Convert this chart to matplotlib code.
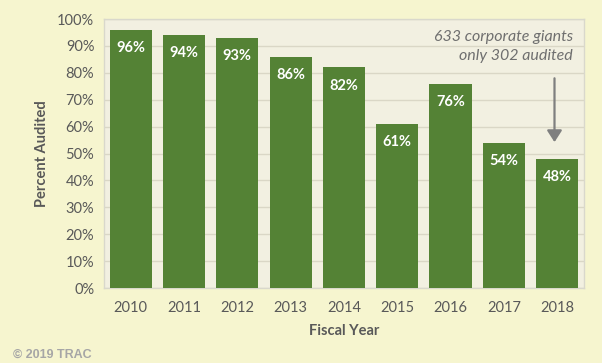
import matplotlib
matplotlib.use("Agg")
import matplotlib.pyplot as plt
from matplotlib.ticker import PercentFormatter

years = ["2010", "2011", "2012", "2013", "2014", "2015", "2016", "2017", "2018"]
pct_audited = [96, 94, 93, 86, 82, 61, 76, 54, 48]
note = "633 corporate giants\nonly 302 audited"

plt.rcParams["font.family"] = ["Lato", "DejaVu Sans"]

fig = plt.figure(figsize=(6.02, 3.63), dpi=100, facecolor="#F6F5CF")
ax = fig.add_axes([0.1728, 0.2066, 0.797, 0.741])
ax.set_facecolor("#F2F0E1")

x = range(len(years))
bars = ax.bar(x, pct_audited, width=0.79, color="#548235", zorder=3)
for b, v in zip(bars, pct_audited):
    ax.text(b.get_x() + b.get_width() / 2, v - 6.8, f"{v}%", ha="center", va="center",
            color="white", fontsize=10.5, fontweight="bold", zorder=4)

ax.set_xlim(-0.5, len(years) - 0.5)
ax.set_ylim(0, 100)
ax.set_yticks(range(0, 101, 10))
ax.yaxis.set_major_formatter(PercentFormatter(decimals=0))
ax.set_xticks(list(x))
ax.set_xticklabels(years)
ax.tick_params(length=0, labelsize=10.5, colors="#595959", pad=9)
ax.tick_params(axis="y", pad=7)
ax.grid(axis="y", color="#DAD7C6", linewidth=1, zorder=0)
for s in ax.spines.values():
    s.set_color("#D9D8CC")
    s.set_linewidth(1)

ax.set_ylabel("Percent Audited", fontsize=10.5, fontweight="bold", color="#595959", labelpad=6)
ax.set_xlabel("Fiscal Year", fontsize=10.5, fontweight="bold", color="#595959", labelpad=7)

ax.text(8.3, 95.8, note, ha="right", va="top", style="italic", fontsize=11.5,
        color="#6F6F6F", linespacing=1.4, zorder=5)
ax.annotate("", xy=(7.95, 53.2), xytext=(7.95, 79),
            arrowprops=dict(arrowstyle="-|>,head_width=0.45,head_length=0.7",
                            color="#7F7F7F", lw=1.6), zorder=5)

fig.text(0.022, 0.015, "\u00a9 2019 TRAC", fontsize=9, fontweight="bold",
         color="#A6A6A6", family=["Liberation Sans", "DejaVu Sans"])

fig.savefig("out.png", dpi=100, facecolor=fig.get_facecolor())
